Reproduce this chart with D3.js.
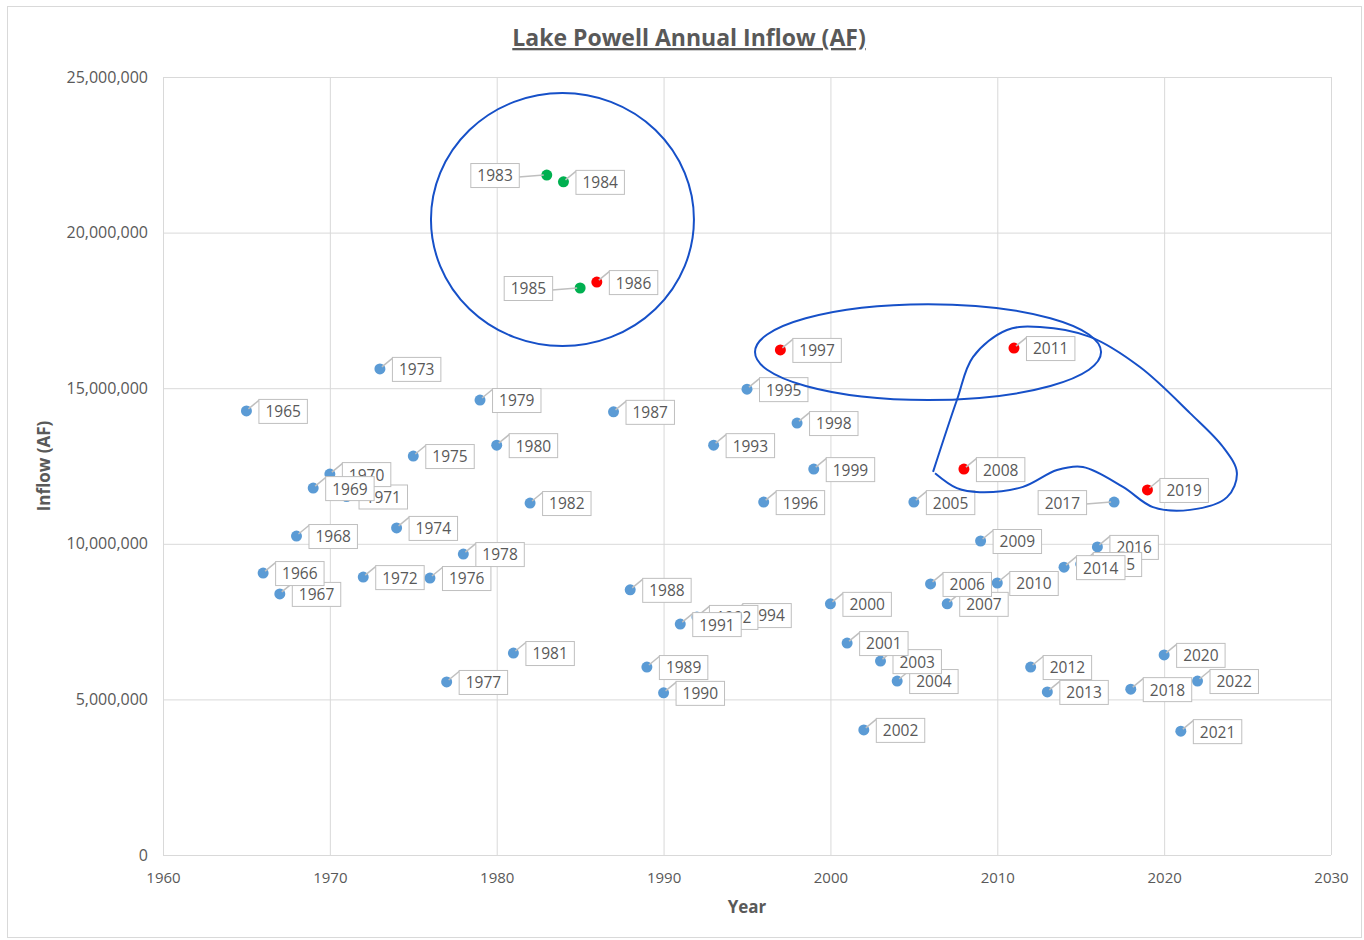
<!DOCTYPE html>
<html>
<head>
<meta charset="utf-8">
<script src="https://cdn.jsdelivr.net/npm/d3@7"></script>
<style>
  body { margin: 0; background: #fff; }
  svg text { font-family: "Open Sans", sans-serif; fill: #595959; }
</style>
</head>
<body>
<div id="chart"></div>
<script>
// data
const years = [1965,1966,1967,1968,1969,1970,1971,1972,1973,1974,1975,1976,1977,1978,1979,
  1980,1981,1982,1983,1984,1985,1986,1987,1988,1989,1990,1991,1992,1993,1994,1995,1996,1997,
  1998,1999,2000,2001,2002,2003,2004,2005,2006,2007,2008,2009,2010,2011,2012,2013,2014,2015,
  2016,2017,2018,2019,2020,2021,2022];
const inflow = [14270000,9060000,8390000,10250000,11790000,12240000,11520000,8930000,15620000,
  10510000,12820000,8900000,5560000,9670000,14620000,13170000,6490000,11310000,21850000,
  21630000,18220000,18410000,14240000,8520000,6040000,5210000,7420000,7650000,13170000,
  7710000,14970000,11340000,16230000,13880000,12400000,8070000,6810000,4020000,6230000,
  5590000,11340000,8710000,8070000,12400000,10090000,8740000,16290000,6040000,5240000,
  9250000,9350000,9900000,11340000,5330000,11730000,6430000,3980000,5590000];
const greenYears = [1983, 1984, 1985];
const redYears = [1986, 1997, 2008, 2011, 2019];
const leftLabelYears = [1983, 1985, 2017];

const xTicks = [1960,1970,1980,1990,2000,2010,2020,2030];
const yTicks = [0,5000000,10000000,15000000,20000000,25000000];

// hand-drawn annotations, in data units [year, AF]
const circleA = {cx: 1983.94, cy: 20420000, rx: 7.88, ry: 4065000};
const ellipseB = {cx: 2005.85, cy: 16160000, rx: 10.37, ry: 1540000};
const loopC = [[2006.15,12310000],[2007.58,14620000],[2008.54,16000000],[2010.58,16870000],
  [2012.56,16970000],[2015.56,16650000],[2018.55,15680000],[2021.55,14200000],
  [2023.53,13110000],[2024.36,12280000],[2023.77,11500000],[2021.55,11090000],
  [2019.33,11180000],[2017.53,11830000],[2015.13,12470000],[2013.58,12370000],
  [2011.54,11830000],[2008.96,11660000],[2007.58,11790000],[2006.27,12270000]];

const W = 1364, H = 940;
const plot = {left: 163, right: 1331, top: 77, bottom: 855};
const gridColor = '#d9d9d9';

const svg = d3.select('#chart').append('svg')
  .attr('width', W).attr('height', H);

svg.append('rect')
  .attr('x', 7.5).attr('y', 6.5)
  .attr('width', 1354).attr('height', 931)
  .attr('fill', '#fff').attr('stroke', '#d9d9d9');

const x = d3.scaleLinear().domain([1960, 2030]).range([plot.left, plot.right]);
const y = d3.scaleLinear().domain([0, 25000000]).range([plot.bottom, plot.top]);

// grid
const grid = svg.append('g').attr('class', 'grid');
grid.selectAll('line.v').data(xTicks).join('line')
  .attr('x1', d => x(d) + 0.5).attr('x2', d => x(d) + 0.5)
  .attr('y1', plot.top).attr('y2', plot.bottom)
  .attr('stroke', gridColor);
grid.selectAll('line.h').data(yTicks).join('line')
  .attr('y1', d => y(d) + 0.5).attr('y2', d => y(d) + 0.5)
  .attr('x1', plot.left).attr('x2', plot.right)
  .attr('stroke', gridColor);

// axes (text only, lines come from the grid)
const fmt = d3.format(',');
const xAxis = svg.append('g')
  .attr('transform', 'translate(0,' + plot.bottom + ')')
  .call(d3.axisBottom(x).tickValues(xTicks).tickFormat(d3.format('d')).tickSize(0).tickPadding(17));
const yAxis = svg.append('g')
  .attr('transform', 'translate(' + plot.left + ',0)')
  .call(d3.axisLeft(y).tickValues(yTicks).tickFormat(fmt).tickSize(0).tickPadding(15));
xAxis.selectAll('text').attr('font-size', 15);
yAxis.selectAll('text').attr('font-size', 16);
[xAxis, yAxis].forEach(a => {
  a.select('.domain').remove();
  a.selectAll('text').attr('fill', '#595959')
    .style('font-family', '"Open Sans", sans-serif');
});

// titles
svg.append('text')
  .attr('x', 689).attr('y', 46)
  .attr('text-anchor', 'middle')
  .attr('font-size', 23).attr('font-weight', 'bold')
  .attr('text-decoration', 'underline')
  .text('Lake Powell Annual Inflow (AF)');
svg.append('text')
  .attr('x', (plot.left + plot.right) / 2).attr('y', 913)
  .attr('text-anchor', 'middle')
  .attr('font-size', 17).attr('font-weight', 'bold')
  .text('Year');
svg.append('text')
  .attr('transform', 'translate(50,' + ((plot.top + plot.bottom) / 2) + ') rotate(-90)')
  .attr('text-anchor', 'middle')
  .attr('font-size', 17).attr('font-weight', 'bold')
  .text('Inflow (AF)');

const points = years.map((yr, i) => ({year: yr, value: inflow[i]}));
function colorOf(yr) {
  if (greenYears.includes(yr)) return '#00b050';
  if (redYears.includes(yr)) return '#ff0000';
  return '#5b9bd5';
}

// markers
svg.append('g').selectAll('circle').data(points).join('circle')
  .attr('cx', d => x(d.year)).attr('cy', d => y(d.value))
  .attr('r', 5.5)
  .attr('fill', d => colorOf(d.year));

// data labels, earlier years end up on top
const labels = svg.append('g').attr('class', 'labels');
points.slice().reverse().forEach(d => {
  const px = x(d.year), py = y(d.value);
  const g = labels.append('g');
  const t = g.append('text')
    .attr('font-size', 15.5)
    .attr('dy', '0.35em')
    .text(d.year);
  const tw = t.node().getComputedTextLength();
  const bw = tw + 13, bh = 24;
  const left = leftLabelYears.includes(d.year);
  const bx = left ? px - 28 - bw : px + 12;
  const by = py - 12;
  if (left) {
    g.insert('line', 'text')
      .attr('x1', bx + bw).attr('y1', py + 2)
      .attr('x2', px - 3).attr('y2', py)
      .attr('stroke', '#bfbfbf').attr('stroke-width', 1.5);
  } else {
    g.insert('line', 'text')
      .attr('x1', px + 2).attr('y1', py - 2)
      .attr('x2', bx + 1).attr('y2', by + 1)
      .attr('stroke', '#bfbfbf').attr('stroke-width', 1.5);
  }
  g.insert('rect', 'text')
    .attr('x', bx + 0.5).attr('y', by + 0.5)
    .attr('width', bw).attr('height', bh)
    .attr('fill', '#fff').attr('stroke', '#bfbfbf');
  t.attr('x', bx + 0.5 + bw / 2).attr('y', by + bh / 2 + 1)
    .attr('text-anchor', 'middle');
});

// annotations
const ann = svg.append('g')
  .attr('fill', 'none').attr('stroke', '#1650c8').attr('stroke-width', 2);
[circleA, ellipseB].forEach(e => {
  ann.append('ellipse')
    .attr('cx', x(e.cx)).attr('cy', y(e.cy))
    .attr('rx', x(e.cx + e.rx) - x(e.cx))
    .attr('ry', y(e.cy - e.ry) - y(e.cy));
});
const loopLine = d3.line()
  .x(d => x(d[0])).y(d => y(d[1]))
  .curve(d3.curveCatmullRom.alpha(0.5));
ann.append('path').attr('d', loopLine(loopC));
</script>
</body>
</html>
